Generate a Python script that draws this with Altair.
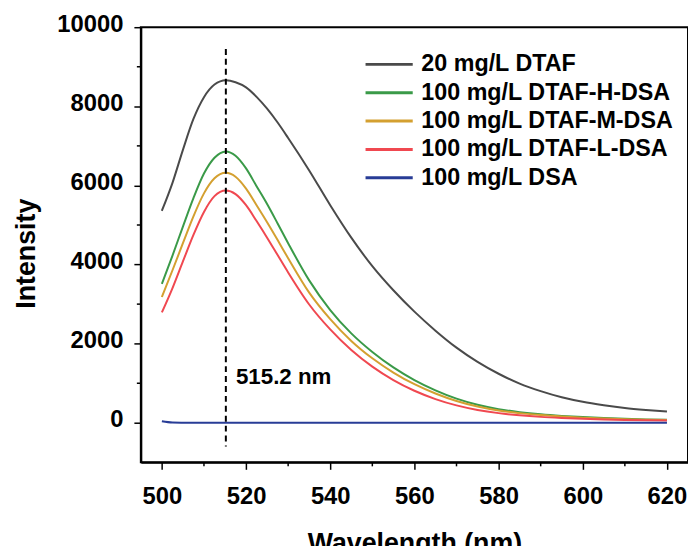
import altair as alt
import pandas as pd

wavelengths = [500, 502.5, 505, 507.5, 510, 512.5, 515.2, 517.5, 520, 522.5, 525, 527.5,
               530, 535, 540, 545, 550, 555, 560, 565, 570, 575, 580, 585, 590, 595,
               600, 605, 610, 615, 620]

series_names = ["20 mg/L DTAF", "100 mg/L DTAF-H-DSA", "100 mg/L DTAF-M-DSA",
                "100 mg/L DTAF-L-DSA", "100 mg/L DSA"]
series_colors = ["#4a4a4a", "#3a9a48", "#d4a030", "#f04850", "#283c96"]

dtaf = [5360, 6060, 6900, 7680, 8230, 8550, 8660, 8610, 8480, 8240, 7940, 7590,
        7200, 6380, 5500, 4680, 3960, 3350, 2810, 2330, 1900, 1540, 1240, 990, 800, 645,
        530, 445, 375, 325, 285]
h_dsa = [3510, 4220, 4960, 5680, 6300, 6700, 6860, 6750, 6430, 5980, 5530, 5040,
         4540, 3600, 2850, 2260, 1790, 1400, 1080, 820, 610, 455, 345, 270, 215, 175,
         145, 120, 100, 85, 75]
m_dsa = [3180, 3850, 4540, 5220, 5800, 6180, 6320, 6220, 5920, 5500, 5070, 4620,
         4160, 3290, 2620, 2070, 1630, 1270, 975, 740, 550, 410, 310, 245, 195, 158,
         130, 108, 90, 77, 68]
l_dsa = [2790, 3400, 4080, 4750, 5330, 5730, 5870, 5780, 5500, 5100, 4680, 4240,
         3800, 2990, 2360, 1840, 1420, 1080, 810, 600, 440, 325, 245, 190, 150, 122,
         100, 84, 72, 64, 58]
dsa = [40, 8, 2, 0, 0, 0, 0, 0, 0, 0, 0, 0,
       0, 0, 0, 0, 0, 0, 0, 0, 0, 0, 0, 0, 0, 0,
       0, 0, 0, 0, 0]

peak_wavelength = [515.2]
peak_rule_top = [9450]
peak_rule_bottom = [-600]
peak_label = ["515.2 nm"]
peak_label_x = [517.6]
peak_label_y = [1150]

x_major = [500, 520, 540, 560, 580, 600, 620]
x_minor = [510, 530, 550, 570, 590, 610]
y_major = [0, 2000, 4000, 6000, 8000, 10000]
y_minor = [1000, 3000, 5000, 7000, 9000]

all_series = [dtaf, h_dsa, m_dsa, l_dsa, dsa]
rows = []
for order, (name, vals) in enumerate(zip(series_names, all_series)):
    for w, v in zip(wavelengths, vals):
        rows.append({"Wavelength": w, "Intensity": v, "Series": name, "order": order})
df = pd.DataFrame(rows)

FONT = "Liberation Sans"

x_scale = alt.Scale(domain=[495, 625], nice=False, zero=False)
y_scale = alt.Scale(domain=[-1000, 10000], nice=False, zero=False)

lines = alt.Chart(df).mark_line(strokeWidth=2, interpolate="monotone").encode(
    x=alt.X("Wavelength:Q", scale=x_scale,
            axis=alt.Axis(title="Wavelength (nm)", values=x_major, tickSize=7,
                          labelPadding=15, titleY=69, titleBaseline="top")),
    y=alt.Y("Intensity:Q", scale=y_scale,
            axis=alt.Axis(title="Intensity", values=y_major, tickSize=7,
                          labelPadding=11, labelOffset=-3, titleX=-115, titleY=228,
                          titleBaseline="middle", format="d")),
    color=alt.Color("Series:N",
                    scale=alt.Scale(domain=series_names, range=series_colors),
                    legend=alt.Legend(title=None, orient="none", legendX=235, legendY=22,
                                      symbolType="M-1.7,0H1.7", symbolSize=784,
                                      symbolStrokeWidth=3, labelOffset=17,
                                      labelFontSize=23.5, labelFont=FONT, labelFontWeight="bold",
                                      labelColor="black", rowPadding=1.6, labelLimit=400)),
    order=alt.Order("order:Q"),
    detail="Series:N",
)

xminor_df = pd.DataFrame({"Wavelength": x_minor})
xminor = alt.Chart(xminor_df).mark_rule(color="black", strokeWidth=1.5).encode(
    x=alt.X("Wavelength:Q", scale=x_scale), y=alt.value(439), y2=alt.value(443))

yminor_df = pd.DataFrame({"Intensity": y_minor})
yminor = alt.Chart(yminor_df).mark_rule(color="black", strokeWidth=1.5).encode(
    y=alt.Y("Intensity:Q", scale=y_scale), x=alt.value(-4), x2=alt.value(0))

rule_df = pd.DataFrame({"Wavelength": peak_wavelength, "Intensity": peak_rule_top,
                        "bottom": peak_rule_bottom})
rule = alt.Chart(rule_df).mark_rule(color="black", strokeWidth=2, strokeDash=[6, 4]).encode(
    x=alt.X("Wavelength:Q", scale=x_scale), y=alt.Y("Intensity:Q", scale=y_scale),
    y2="bottom:Q")

text_df = pd.DataFrame({"Wavelength": peak_label_x, "Intensity": peak_label_y, "t": peak_label})
label = alt.Chart(text_df).mark_text(align="left", baseline="middle", fontSize=22.5,
                                     fontWeight="bold", font=FONT, color="black").encode(
    x=alt.X("Wavelength:Q", scale=x_scale), y=alt.Y("Intensity:Q", scale=y_scale), text="t:N")

chart = alt.layer(lines, xminor, yminor, rule, label).properties(
    width=552, height=439,
    autosize=alt.AutoSizeParams(type="none"),
    padding={"left": 134, "top": 17, "right": 0, "bottom": 82},
).configure_view(stroke="black", strokeWidth=2).configure_axis(
    grid=False, domainColor="black", domainWidth=2, tickColor="black", tickWidth=1.5,
    labelFont=FONT, labelFontSize=24, labelFontWeight="bold", labelColor="black",
    titleFont=FONT, titleFontSize=27, titleFontWeight="bold", titleColor="black",
)

chart.save("out.html", embed_options={"renderer": "svg", "actions": False})
